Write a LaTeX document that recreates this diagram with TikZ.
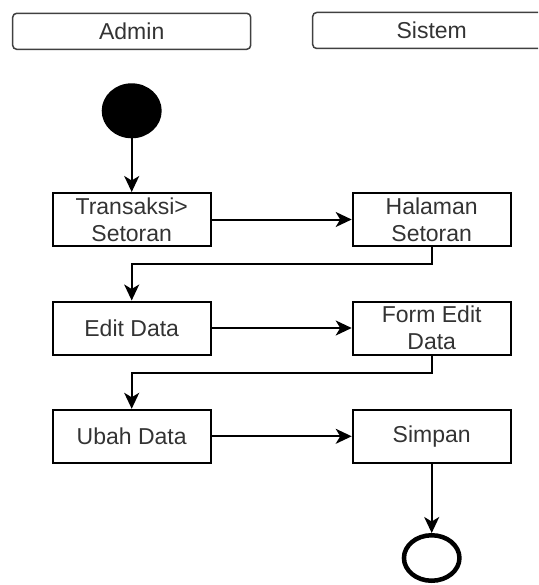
\documentclass[tikz,border=0pt]{standalone}
\usepackage{fontspec}
\setmainfont{Liberation Sans}
\usetikzlibrary{arrows.meta,shapes.geometric}
\begin{document}
\begin{tikzpicture}[x=1pt,y=-1pt,
  font=\fontsize{23}{27}\selectfont,
  lane/.style={draw=black!75, line width=1.5pt, rounded corners=4pt, minimum width=238pt, minimum height=36pt, inner sep=0pt, text=black!80},
  act/.style={draw, line width=2pt, minimum width=158pt, minimum height=53pt, inner sep=0pt, align=center, text=black!80},
  flow/.style={line width=2pt, -{Stealth[length=16pt,width=15pt,inset=4.5pt]}},
]
\useasboundingbox (0,0) rectangle (538,585);
\clip (0,0) rectangle (538,585);
\node[lane] (admin) at (131.7,31.3) {Admin};
\node[lane] (sistem) at (431.7,30.5) {Sistem};
\node[ellipse, fill=black, minimum width=60pt, minimum height=55pt, inner sep=0pt] (start) at (131.7,110.8) {};
\node[act] (t1) at (131.7,219.5) {Transaksi>\\Setoran};
\node[act] (h1) at (431.7,219.5) {Halaman\\Setoran};
\node[act] (e1) at (131.7,328) {Edit Data};
\node[act] (f1) at (431.7,328) {Form Edit\\Data};
\node[act] (u1) at (131.7,436.3) {Ubah Data};
\node[act] (s1) at (431.7,436.3) {Simpan};
\node[ellipse, draw, line width=4.5pt, minimum width=55.5pt, minimum height=45.5pt, inner sep=0pt] (end) at (431.7,558) {};
\draw[flow] (start) -- (t1);
\draw[flow] (t1) -- (h1);
\draw[flow] (h1.south) -- ++(0,17.3) -| (e1.north);
\draw[flow] (e1) -- (f1);
\draw[flow] (f1.south) -- ++(0,17.7) -| (u1.north);
\draw[flow] (u1) -- (s1);
\draw[flow] (s1) -- (end);
\end{tikzpicture}
\end{document}
